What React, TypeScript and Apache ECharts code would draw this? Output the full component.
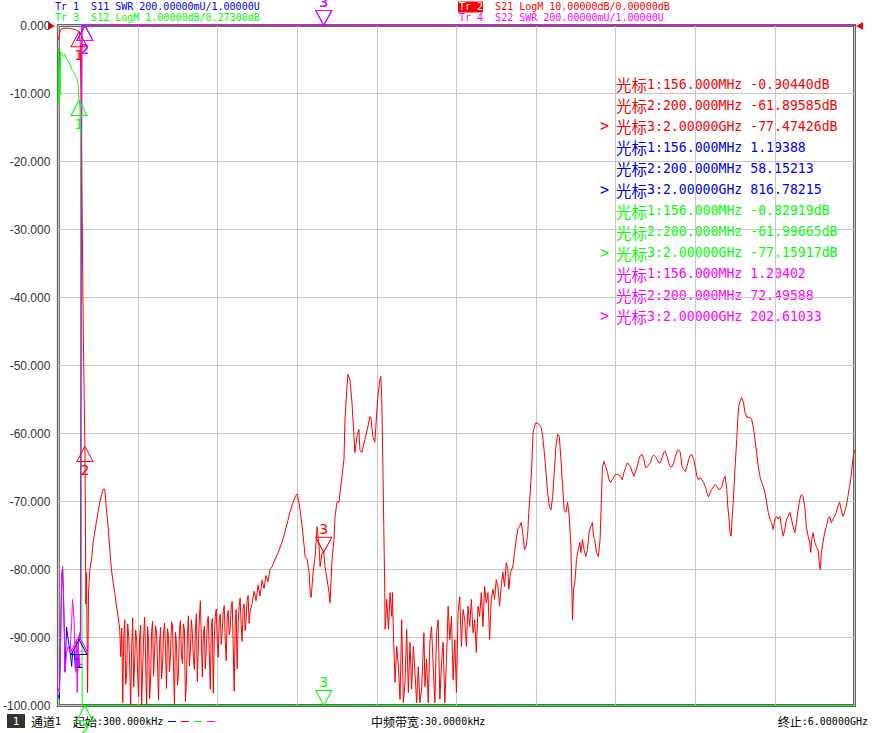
import { useEffect, useRef } from "react";
import * as echarts from "echarts";

// sweep 300 kHz .. 6 GHz, frequencies in MHz
const X_MIN = 0;
const X_MAX = 6000;
const X_STEP = 600;

// marker frequencies and their readouts
const MARKER_FREQS = [156, 200, 2000];
const MARKER_FREQ_LABELS = ["156.000MHz", "200.000MHz", "2.00000GHz"];
const S11_MARKERS = [1.19388, 58.15213, 816.78215];
const S21_MARKERS = [-0.9044, -61.89585, -77.47426];
const S12_MARKERS = [-0.82919, -61.99665, -77.15917];
const S22_MARKERS = [1.20402, 72.49588, 202.61033];

// S21 LogM [MHz, dB]
const S21_TRACE: [number, number][] = [
  [0.3, -2.1], [15, -0.6], [37.5, -0.4], [82.5, -0.4], [127.5, -0.6], [156, -0.9044],
  [165, -2.5], [176, -20], [187.5, -45], [200, -61.9], [207.5, -85.1], [212.5, -80.5],
  [220, -98.1], [227.5, -83.2], [237.5, -80.0], [250, -78.5], [262.5, -75.9], [275, -74.4],
  [287.5, -72.9], [300, -71.5], [312.5, -70.1], [325, -69.0], [337.5, -68.2], [350, -68.2],
  [357.5, -70.1], [375, -73.7], [387.5, -77.1], [400, -80.0], [412.5, -81.9], [425, -83.4],
  [437.5, -85.4], [450, -86.9], [462.5, -88.8],
  [470, -92.8], [477.5, -88.6], [485, -99.6], [492.5, -90.2], [500, -87.4], [507.5, -96.9],
  [515, -95.2], [522.5, -88.0], [530, -89.9], [537.5, -94.1], [545, -100], [552.5, -91.5],
  [560, -87.1], [567.5, -97.3], [575, -93.6], [582.5, -88.9], [590, -90.4], [597.5, -95.5],
  [605, -98.7], [612.5, -89.8], [620, -88.2], [627.5, -100], [635, -94.9], [642.5, -90.0],
  [650, -87.0], [657.5, -93.3], [665, -100], [672.5, -88.4], [680, -90.6], [687.5, -99.0],
  [695, -96.4], [702.5, -89.1], [710, -87.6], [717.5, -95.7], [725, -92.1], [732.5, -88.3],
  [740, -89.3], [747.5, -93.9], [755, -99.2], [762.5, -90.8], [770, -88.5], [777.5, -96.1],
  [785, -94.0], [792.5, -89.5], [800, -87.9], [807.5, -91.8], [815, -97.5], [822.5, -88.7],
  [830, -89.7], [837.5, -95.0], [845, -92.6], [852.5, -87.7], [860, -88.1], [867.5, -94.4],
  [875, -100], [882.5, -89.2], [890, -90.9], [897.5, -97.0], [905, -95.3], [912.5, -88.8],
  [920, -87.5], [927.5, -92.5], [935, -93.8], [942.5, -88.0], [950, -88.9], [957.5, -99.4],
  [965, -96.8], [972.5, -89.6], [980, -86.8], [987.5, -94.2], [995, -92.0], [1002.5, -87.4],
  [1010, -89.4], [1017.5, -93.0], [1025, -94.7], [1032.5, -88.9], [1040, -86.5], [1047.5, -96.5],
  [1055, -91.2], [1062.5, -87.3], [1070, -84.6], [1077.5, -90.1], [1085, -95.8], [1092.5, -89.7],
  [1100, -88.3], [1107.5, -94.6], [1115, -91.7], [1122.5, -87.8], [1130, -86.9], [1137.5, -92.4],
  [1145, -97.6], [1152.5, -88.6], [1160, -87.2], [1167.5, -98.2], [1175, -90.3], [1182.5, -86.9],
  [1190, -85.8], [1197.5, -90.7], [1205, -92.9], [1212.5, -87.3], [1220, -86.6], [1227.5, -91.0],
  [1235, -89.1], [1242.5, -86.2], [1250, -85.3], [1257.5, -90.4], [1265, -93.4], [1272.5, -87.1],
  [1280, -86.0], [1287.5, -89.6], [1295, -88.7], [1302.5, -85.5], [1310, -84.7], [1317.5, -91.3],
  [1325, -97.9], [1332.5, -88.2], [1340, -85.9], [1347.5, -94.6], [1355, -88.0], [1362.5, -85.4],
  [1370, -84.2], [1377.5, -88.1], [1385, -90.6], [1392.5, -85.7], [1400, -85.1], [1407.5, -89.0],
  [1415, -87.3], [1422.5, -84.6], [1430, -83.8], [1437.5, -87.9], [1445, -86.2],
  [1460, -85.0], [1475, -83.2], [1490, -84.6], [1505, -82.3], [1520, -83.9], [1535, -81.6],
  [1550, -82.8], [1565, -80.9], [1580, -81.8], [1595, -80.0], [1610, -79.6], [1625, -78.9],
  [1640, -78.2], [1655, -77.6], [1670, -76.8], [1685, -76.0], [1700, -75.0], [1715, -73.9],
  [1730, -72.8], [1745, -71.6], [1760, -70.6], [1775, -69.8], [1790, -69.1], [1800, -68.9],
  [1815, -70.3], [1825, -71.8], [1837.5, -73.7], [1852.5, -76.6], [1860, -78.1], [1875, -78.5],
  [1890, -80.4], [1897.5, -83.4], [1905, -84.1], [1920, -80.4], [1935, -78.1], [1950, -73.7],
  [1965, -76.6], [1972.5, -79.6], [1987.5, -77.5], [2000, -77.47426], [2010, -79.6], [2025, -81.5],
  [2040, -83.4], [2047.5, -84.9], [2062.5, -78.5], [2077.5, -75.6], [2085, -72.2], [2100, -70.1],
  [2115, -70.1], [2122.5, -68.7], [2137.5, -66.3], [2152.5, -63.8], [2160, -57.9], [2175, -53.1],
  [2182.5, -51.3], [2197.5, -52.1], [2212.5, -55.4], [2227.5, -60.4], [2235, -62.8], [2250, -60.4],
  [2265, -59.4], [2272.5, -62.4], [2287.5, -62.8], [2310, -60.9], [2332.5, -59.0], [2347.5, -57.5],
  [2355, -57.6], [2370, -60.4], [2385, -61.3], [2392.5, -59.0], [2407.5, -54.6], [2422.5, -52.1],
  [2430, -51.6], [2437.5, -55.0], [2445, -63.8], [2452.5, -73.7], [2460, -83.4], [2462.5, -88.8],
  [2475, -84.4], [2487.5, -88.8], [2500, -83.4], [2512.5, -86.9], [2517.5, -83.4], [2525, -89.3],
  [2537.5, -96.6], [2550, -91.3], [2562.5, -94.3], [2575, -99.1], [2587.5, -87.4], [2600, -99.6],
  [2612.5, -96.6], [2625, -88.8], [2637.5, -98.1], [2650, -90.7], [2662.5, -97.6], [2675, -91.3],
  [2687.5, -95.1], [2700, -99.6], [2712.5, -94.3], [2725, -99.6], [2737.5, -97.6], [2755, -89.3],
  [2762.5, -97.2], [2775, -93.2], [2787.5, -99.6], [2800, -90.7], [2812.5, -88.4], [2825, -94.3],
  [2837.5, -99.6], [2850, -89.3], [2862.5, -87.4], [2875, -99.1], [2887.5, -93.7], [2900, -90.7],
  [2912.5, -99.6], [2925, -93.2], [2937.5, -85.4], [2950, -90.3], [2962.5, -86.9], [2975, -96.2],
  [2987.5, -90.3], [3000, -98.1], [3012.5, -86.3], [3025, -84.0], [3037.5, -91.3], [3050, -85.9],
  [3062.5, -87.4], [3075, -91.3], [3087.5, -85.4], [3100, -88.4], [3112.5, -84.4], [3125, -89.3],
  [3137.5, -87.4], [3150, -92.2], [3162.5, -85.4], [3175, -86.9], [3187.5, -83.4], [3200, -88.4],
  [3212.5, -82.5], [3225, -84.9], [3237.5, -83.4], [3250, -90.3], [3262.5, -84.4], [3275, -82.9],
  [3287.5, -84.4], [3300, -81.5], [3312.5, -82.5], [3325, -85.4], [3337.5, -82.5], [3350, -80.4],
  [3362.5, -82.5], [3375, -79.0], [3387.5, -80.0], [3395, -82.9], [3407.5, -80.4], [3425, -79.6],
  [3437.5, -77.5], [3450, -75.6], [3462.5, -74.1], [3475, -73.7], [3487.5, -73.1], [3500, -74.6],
  [3512.5, -77.1], [3525, -76.6], [3537.5, -74.6], [3545, -71.6], [3557.5, -68.2], [3567.5, -64.9],
  [3577.5, -59.9], [3587.5, -59.0], [3600, -58.4], [3625, -58.7], [3637.5, -59.0], [3650, -60.4],
  [3662.5, -62.8], [3675, -65.7], [3687.5, -68.7], [3700, -70.7], [3712.5, -71.2], [3725, -69.3],
  [3737.5, -65.7], [3750, -61.9], [3762.5, -60.1], [3775, -60.4], [3787.5, -63.8], [3800, -67.8],
  [3812.5, -71.2], [3825, -71.6], [3837.5, -70.1], [3850, -72.2], [3862.5, -76.6], [3875, -87.4],
  [3882.5, -82.9], [3892.5, -81.9], [3905, -78.5], [3917.5, -77.1], [3930, -76.0], [3937.5, -77.5],
  [3950, -75.6], [3962.5, -77.1], [3975, -78.1], [3987.5, -77.1], [4000, -74.6], [4012.5, -73.7],
  [4025, -73.1], [4032.5, -75.1], [4042.5, -75.6], [4055, -77.5], [4070, -78.1], [4082.5, -75.6],
  [4092.5, -69.7], [4100, -64.9], [4112.5, -64.1], [4125, -64.9], [4137.5, -65.7], [4150, -66.8],
  [4162.5, -67.2], [4175, -66.8], [4187.5, -66.3], [4200, -66.0], [4212.5, -66.0], [4237.5, -66.3],
  [4250, -66.8], [4262.5, -65.7], [4275, -65.0], [4287.5, -64.3], [4300, -64.6], [4312.5, -64.9],
  [4325, -65.7], [4337.5, -66.3], [4350, -65.6], [4362.5, -64.9], [4375, -63.8], [4387.5, -63.2],
  [4400, -63.1], [4412.5, -63.8], [4425, -65.0], [4437.5, -64.9], [4450, -64.6], [4462.5, -64.3],
  [4475, -63.4], [4487.5, -63.2], [4500, -63.4], [4512.5, -63.8], [4525, -64.3], [4537.5, -64.3],
  [4550, -63.5], [4562.5, -62.8], [4575, -62.6], [4587.5, -63.4], [4600, -64.3], [4612.5, -64.9],
  [4625, -64.9], [4637.5, -64.3], [4650, -63.4], [4662.5, -62.6], [4675, -62.4], [4687.5, -62.8],
  [4700, -64.9], [4712.5, -65.3], [4725, -65.6], [4737.5, -64.9], [4750, -63.8], [4762.5, -63.2],
  [4775, -63.1], [4787.5, -63.8], [4800, -64.9], [4812.5, -66.3], [4825, -66.8], [4837.5, -66.5],
  [4850, -66.8], [4862.5, -67.2], [4875, -67.8], [4887.5, -68.7], [4900, -69.3], [4912.5, -68.7],
  [4925, -68.2], [4937.5, -67.8], [4950, -67.5], [4962.5, -67.8], [4975, -68.2], [4987.5, -68.2],
  [5000, -67.8], [5012.5, -66.8], [5025, -66.3], [5037.5, -68.2], [5045, -70.7], [5052.5, -72.2],
  [5062.5, -74.6], [5070, -75.1], [5077.5, -72.6], [5087.5, -69.7], [5100, -64.9], [5112.5, -60.9],
  [5120, -57.9], [5127.5, -56.0], [5137.5, -55.3], [5150, -54.7], [5162.5, -55.4], [5175, -56.9],
  [5187.5, -57.6], [5212.5, -57.6], [5225, -57.9], [5237.5, -59.1], [5250, -60.9], [5262.5, -62.8],
  [5275, -64.9], [5287.5, -66.3], [5300, -67.2], [5312.5, -67.8], [5325, -68.7], [5337.5, -70.1],
  [5350, -71.6], [5362.5, -72.6], [5375, -73.1], [5387.5, -74.1], [5400, -72.6], [5412.5, -72.2],
  [5425, -72.6], [5437.5, -72.2], [5450, -73.7], [5462.5, -75.1], [5475, -74.1], [5487.5, -72.6],
  [5500, -72.2], [5512.5, -71.6], [5525, -72.6], [5537.5, -73.7], [5550, -74.6], [5562.5, -73.1],
  [5575, -71.2], [5587.5, -69.7], [5600, -69.0], [5612.5, -69.3], [5625, -70.7], [5637.5, -73.7],
  [5650, -75.1], [5662.5, -76.0], [5670, -77.5], [5677.5, -75.6], [5687.5, -74.6], [5700, -76.0],
  [5712.5, -76.6], [5725, -77.1], [5737.5, -79.6], [5742.5, -80.0], [5750, -77.5], [5762.5, -76.0],
  [5775, -74.6], [5787.5, -73.7], [5800, -72.6], [5812.5, -72.2], [5825, -73.1], [5837.5, -72.6],
  [5850, -72.2], [5862.5, -71.6], [5875, -70.7], [5887.5, -70.1], [5900, -71.2], [5912.5, -72.2],
  [5925, -71.6], [5937.5, -70.7], [5950, -69.3], [5962.5, -67.8], [5975, -66.3], [5987.5, -63.8],
  [6000, -62.4],
];

// S12 LogM [MHz, dB]
const S12_TRACE: [number, number][] = [
  [0.3, -0.06], [4, -0.89], [9, -0.35], [13, -0.75], [16, -0.12], [25, -0.124], [37.5, -0.183],
  [50, -0.153], [62, -0.227], [75, -0.256], [88, -0.3], [100, -0.374], [112, -0.403], [125, -0.448],
  [137, -0.492], [150, -0.595], [156, -0.82919], [162.5, -0.918], [166, -1.3], [172, -6], [180, -25],
  [200, -61.99665], [400, -80.1], [1000, -90.2], [2000, -77.15917], [3000, -88.5], [4000, -70.3],
  [5000, -66.9], [6000, -62.7],
];

// S11 SWR [MHz, U]
const S11_TRACE: [number, number][] = [
  [0.3, 1.03], [7.5, 1.02], [17, 1.195], [25, 1.37], [32, 1.4], [37.5, 1.33], [45, 1.21], [50, 1.1],
  [62, 1.23], [75, 1.19], [88, 1.16], [100, 1.115], [108, 1.16], [118, 1.165], [128, 1.11], [137, 1.15],
  [145, 1.1], [150, 1.18], [156, 1.19388], [166, 1.22], [172, 2.2], [178, 6], [200, 58.15],
  [1000, 300], [2000, 816.8], [4000, 600], [6000, 400],
];

// S22 SWR [MHz, U]
const S22_TRACE: [number, number][] = [
  [0.3, 1.05], [7.5, 1.038], [17, 1.194], [25, 1.391], [32, 1.409], [37.5, 1.341], [45, 1.224],
  [50, 1.097], [62, 1.156], [75, 1.174], [88, 1.156], [100, 1.244], [107, 1.312], [118, 1.253],
  [125, 1.165], [133, 1.097], [137, 1.194], [142, 1.038], [150, 1.185], [156, 1.20402], [167, 1.194],
  [175, 3.5], [200, 72.5], [1000, 150], [2000, 202.6], [4000, 180], [6000, 160],
];

// display scales: S21 10 dB/div ref 0 at top, S12 1 dB/div ref 0.273 at top, SWR 0.2/div ref 1 at bottom
const AXIS_RANGES = [
  { min: -100, max: 0 },
  { min: -9.727, max: 0.273 },
  { min: 1, max: 3 },
];

const TRACES = [
  { name: "S11", color: "#0000ff", data: S11_TRACE, markers: S11_MARKERS, axis: 2, unit: "" },
  { name: "S21", color: "#ff0000", data: S21_TRACE, markers: S21_MARKERS, axis: 0, unit: "dB" },
  { name: "S12", color: "#00ff00", data: S12_TRACE, markers: S12_MARKERS, axis: 1, unit: "dB" },
  { name: "S22", color: "#ff00ff", data: S22_TRACE, markers: S22_MARKERS, axis: 2, unit: "" },
];

// readout block order: Tr2, Tr1, Tr3, Tr4
const READOUT_ORDER = [1, 0, 2, 3];

// non-breaking spaces so the svg text keeps the double gap
const NB = "\u00a0";
const HEADERS = [
  { tr: "Tr 1", text: `${NB}${NB}S11 SWR 200.00000mU/1.00000U`, trace: 0, col: 0, row: 0, active: false },
  { tr: "Tr 3", text: `${NB}${NB}S12 LogM 1.00000dB/0.27300dB`, trace: 2, col: 0, row: 1, active: false },
  { tr: "Tr 2", text: `${NB}${NB}S21 LogM 10.00000dB/0.00000dB`, trace: 1, col: 1, row: 0, active: true },
  { tr: "Tr 4", text: `${NB}${NB}S22 SWR 200.00000mU/1.00000U`, trace: 3, col: 1, row: 1, active: false },
];

const MONO = "'DejaVu Sans Mono', 'Liberation Mono', monospace";
const CJK = "'Noto Sans CJK SC', sans-serif";

const clamp = (v: number, axis: number) =>
  Math.min(AXIS_RANGES[axis].max, Math.max(AXIS_RANGES[axis].min, v));

function buildOption(): echarts.EChartsOption {
  const graphic: any[] = [];

  // header lines
  HEADERS.forEach((h) => {
    const color = TRACES[h.trace].color;
    const x = h.col === 0 ? 55 : 459;
    const y = h.row === 0 ? 6.5 : 17.5;
    if (h.active) {
      graphic.push({ type: "rect", shape: { x: x - 1, y: y - 5, width: 25, height: 11 }, style: { fill: color } });
    }
    graphic.push({
      type: "text",
      x,
      y,
      style: {
        text: `{a|${h.tr}}{b|${h.text}}`,
        verticalAlign: "middle",
        rich: {
          a: { fill: h.active ? "#ffffff" : color, fontSize: 10, fontFamily: MONO },
          b: { fill: color, fontSize: 10, fontFamily: MONO },
        },
      },
    });
  });

  // marker readouts
  READOUT_ORDER.forEach((ti, bi) => {
    const t = TRACES[ti];
    t.markers.forEach((v, mi) => {
      const row = bi * 3 + mi;
      const y = 84 + row * 21.1;
      if (mi === 2) {
        graphic.push({
          type: "text",
          x: 600,
          y,
          style: { text: ">", fill: t.color, fontSize: 15, fontFamily: MONO, verticalAlign: "middle" },
        });
      }
      graphic.push({
        type: "text",
        x: 616,
        y,
        style: {
          text: `{c|光标}{l|${mi + 1}:${MARKER_FREQ_LABELS[mi]} ${v.toFixed(5)}${t.unit}}`,
          verticalAlign: "middle",
          rich: {
            c: { fill: t.color, fontSize: 15.5, fontFamily: CJK },
            l: { fill: t.color, fontSize: 13.2, fontFamily: MONO },
          },
        },
      });
    });
  });

  // reference level pointers for the active trace
  graphic.push(
    { type: "polygon", shape: { points: [[48, 22], [55, 26], [48, 30]] }, style: { fill: "#ff0000" } },
    { type: "polygon", shape: { points: [[863, 22], [856, 26], [863, 30]] }, style: { fill: "#ff0000" } }
  );

  // status bar
  const barText = (x: number, text: string, align = "left") => ({
    type: "text",
    x,
    y: 721,
    style: {
      text,
      align,
      verticalAlign: "middle",
      rich: {
        c: { fill: "#000", fontSize: 12, fontFamily: CJK },
        l: { fill: "#000", fontSize: 10, fontFamily: MONO },
      },
    },
  });
  graphic.push(
    { type: "rect", shape: { x: 7, y: 714, width: 18, height: 14 }, style: { fill: "#333333" } },
    { type: "text", x: 16, y: 721, style: { text: "1", fill: "#fff", fontSize: 11, fontFamily: MONO, align: "center", verticalAlign: "middle" } },
    barText(31, "{c|通道}{l|1}"),
    barText(73, "{c|起始}{l|:300.000kHz}"),
    barText(371, "{c|中频带宽}{l|:30.0000kHz}"),
    barText(868, "{c|终止}{l|:6.00000GHz}", "right")
  );
  [0, 1, 2, 3].forEach((ti, i) => {
    const x0 = 168 + i * 13;
    graphic.push({
      type: "line",
      shape: { x1: x0, y1: 721.5, x2: x0 + 8, y2: 721.5 },
      style: { stroke: TRACES[ti].color, lineWidth: 1 },
    });
  });

  const series = TRACES.map((t) => ({
    type: "line" as const,
    name: t.name,
    yAxisIndex: t.axis,
    data: t.data.map(([f, v]) => [f, clamp(v, t.axis)]),
    showSymbol: false,
    symbol: "none",
    silent: true,
    clip: false,
    lineStyle: { color: t.color, width: 1 },
    itemStyle: { color: t.color },
    markPoint: {
      silent: true,
      animation: false,
      data: t.markers.map((v, i) => {
        const down = i === 2;
        return {
          coord: [MARKER_FREQS[i], clamp(v, t.axis)],
          symbol: down ? "path://M0,0L16,0L8,15Z" : "triangle",
          symbolSize: [16, 15],
          symbolOffset: [0, down ? -7.5 : 7.5],
          itemStyle: { color: "transparent", borderColor: t.color, borderWidth: 1 },
          label: {
            show: true,
            formatter: String(i + 1),
            position: down ? "top" : "bottom",
            distance: 1,
            color: t.color,
            fontSize: 14,
            fontFamily: "'DejaVu Sans', sans-serif",
          },
        };
      }),
    },
  }));

  return {
    animation: false,
    backgroundColor: "#ffffff",
    grid: {
      left: 54.5,
      top: 25.5,
      width: 800,
      height: 680,
      show: true,
      borderColor: "#666666",
      borderWidth: 3,
      containLabel: false,
    },
    xAxis: {
      type: "value",
      min: X_MIN,
      max: X_MAX,
      interval: X_STEP,
      axisLabel: { show: false },
      axisTick: { show: false },
      axisLine: { show: false },
      splitLine: { show: true, lineStyle: { color: "#c8c8c8", width: 1 } },
    },
    yAxis: AXIS_RANGES.map((r, i) =>
      i === 0
        ? {
            type: "value" as const,
            min: r.min,
            max: r.max,
            interval: 10,
            axisLine: { show: false },
            axisTick: { show: false },
            axisLabel: {
              formatter: (v: number) => v.toFixed(3),
              color: "#333333",
              fontSize: 12,
              fontFamily: "'Liberation Sans', Arial, sans-serif",
              margin: 8,
            },
            splitLine: { show: true, lineStyle: { color: "#c8c8c8", width: 1 } },
          }
        : {
            type: "value" as const,
            min: r.min,
            max: r.max,
            show: false,
            splitLine: { show: false },
          }
    ),
    series,
    graphic,
  } as echarts.EChartsOption;
}

export default function App() {
  const chartRef = useRef<HTMLDivElement>(null);

  useEffect(() => {
    if (!chartRef.current) return;
    const chart = echarts.init(chartRef.current, null, { renderer: "svg" });
    chart.setOption(buildOption());
    return () => {
      chart.dispose();
    };
  }, []);

  return (
    <div
      ref={chartRef}
      style={{ position: "fixed", left: 0, top: 0, width: 874, height: 733, background: "#fff" }}
    />
  );
}
